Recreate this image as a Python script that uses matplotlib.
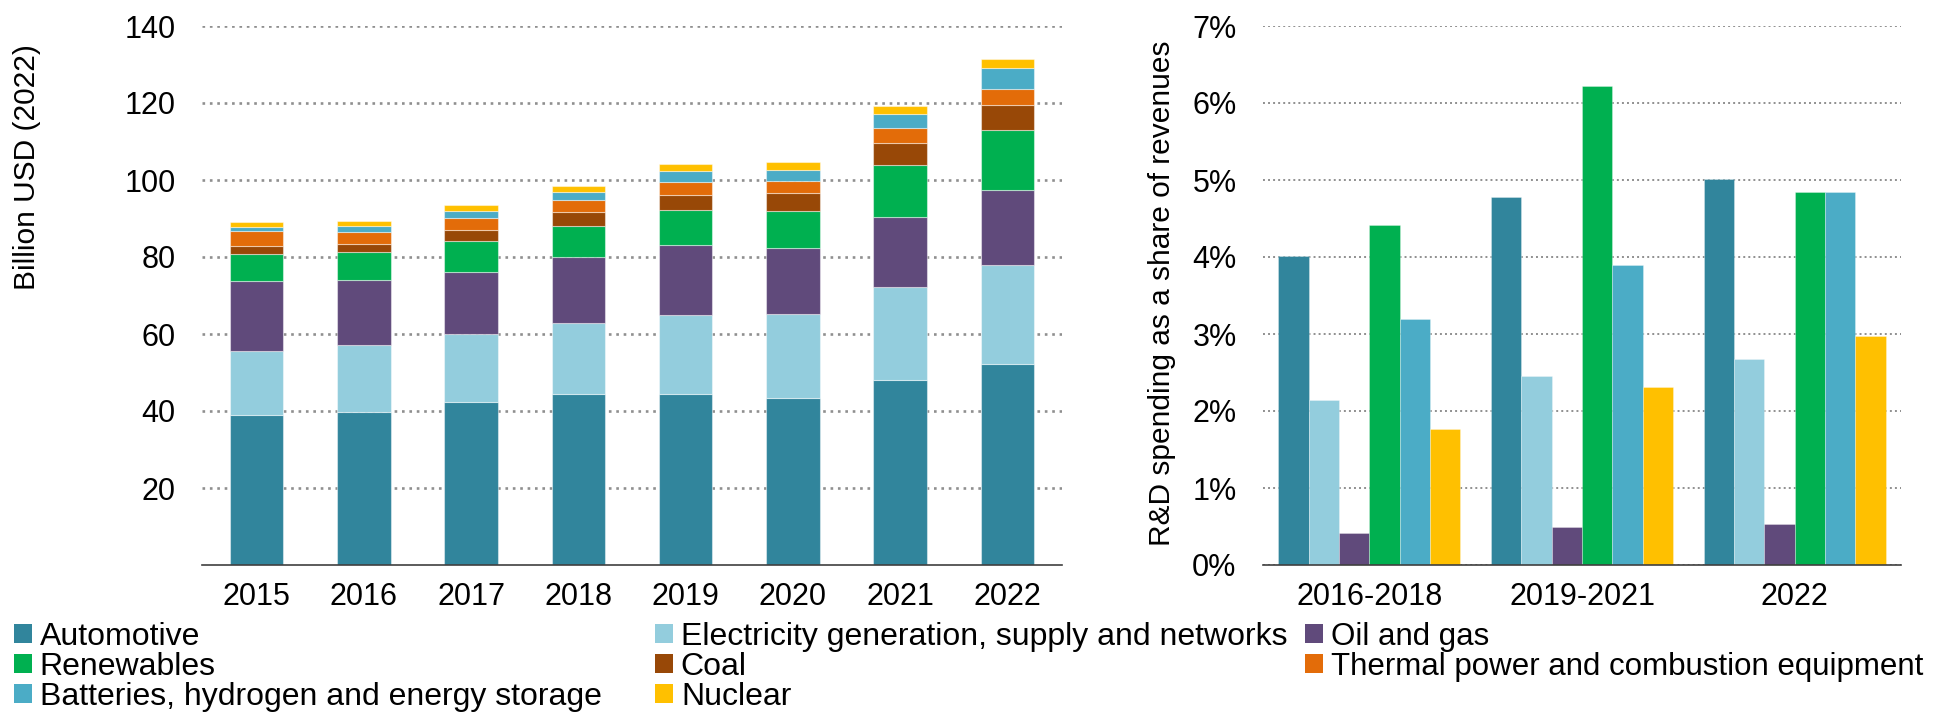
import numpy as np
import matplotlib
matplotlib.use("Agg")
import matplotlib.pyplot as plt
from matplotlib.patches import Patch
from matplotlib.ticker import FuncFormatter

plt.rcParams['font.family'] = ['Liberation Sans', 'DejaVu Sans']

#-------------------------------------data-------------------------------------#

years = ["2015", "2016", "2017", "2018", "2019", "2020", "2021", "2022"]
automotive = [38.9, 39.7, 42.4, 44.5, 44.4, 43.5, 48.1, 52.3]
electricity = [16.8, 17.4, 17.5, 18.4, 20.6, 21.8, 24.0, 25.7]
oil_gas = [18.1, 16.8, 16.1, 17.1, 18.2, 17.1, 18.4, 19.5]
renewables = [7.1, 7.5, 8.1, 8.1, 8.9, 9.6, 13.3, 15.4]
coal = [2.0, 1.9, 2.8, 3.5, 4.1, 4.5, 5.8, 6.7]
thermal = [3.8, 3.1, 3.2, 3.3, 3.4, 3.2, 3.9, 4.1]
batteries = [1.2, 1.7, 1.9, 2.1, 2.7, 3.0, 3.7, 5.4]
nuclear = [1.3, 1.3, 1.5, 1.4, 1.9, 2.0, 2.1, 2.3]

periods = ["2016-2018", "2019-2021", "2022"]
share_auto = [4.01, 4.78, 5.01]
share_elec = [2.14, 2.46, 2.67]
share_oil = [0.42, 0.49, 0.53]
share_ren = [4.41, 6.22, 4.84]
share_batt = [3.20, 3.90, 4.85]
share_nuc = [1.76, 2.31, 2.97]

colors = {"Automotive": "#31859C",
          "Electricity generation, supply and networks": "#93CDDD",
          "Oil and gas": "#604A7B",
          "Renewables": "#00B050",
          "Coal": "#984807",
          "Thermal power and combustion equipment": "#E36C09",
          "Batteries, hydrogen and energy storage": "#4BACC6",
          "Nuclear": "#FFC000"}

stack = [automotive, electricity, oil_gas, renewables, coal, thermal, batteries, nuclear]
stack_names = ["Automotive", "Electricity generation, supply and networks", "Oil and gas",
               "Renewables", "Coal", "Thermal power and combustion equipment",
               "Batteries, hydrogen and energy storage", "Nuclear"]

shares = [share_auto, share_elec, share_oil, share_ren, share_batt, share_nuc]
share_names = ["Automotive", "Electricity generation, supply and networks", "Oil and gas",
               "Renewables", "Batteries, hydrogen and energy storage", "Nuclear"]

W, H = 1937, 713
fig = plt.figure(figsize=(W / 100, H / 100), dpi=100)

grid_col = "#8F8F8F"
base_col = "#404040"
fs = 22

def style_axes(ax, pad_y):
    for s in ["top", "right", "left"]:
        ax.spines[s].set_visible(False)
    ax.spines["bottom"].set_color(base_col)
    ax.spines["bottom"].set_linewidth(1.2)
    ax.tick_params(axis="both", length=0, labelsize=fs, colors="black")
    ax.tick_params(axis="y", pad=pad_y)
    ax.tick_params(axis="x", pad=12)
    ax.set_axisbelow(True)

#-------------------------------------left: stacked R&D spending-------------------------------------#

ax1 = fig.add_axes([202 / W, 1 - 565 / H, (1062 - 202) / W, (565 - 26) / H])
x = np.arange(len(years))
bottom = np.zeros(len(years))
for vals, nm in zip(stack, stack_names):
    ax1.bar(x, vals, 0.5, bottom=bottom, color=colors[nm],
            edgecolor=(1, 1, 1, 0.45), linewidth=0.8)
    bottom += np.array(vals)

ax1.set_xlim(-0.51, 7.51)
ax1.set_ylim(0, 140)
ax1.set_yticks(np.arange(20, 141, 20))
ax1.set_xticks(x)
ax1.set_xticklabels(years)
ax1.yaxis.grid(True, color=grid_col, linestyle=(0, (1, 1.8)), linewidth=1.9)
style_axes(ax1, 19)

#-------------------------------------right: share of revenues-------------------------------------#

ax2 = fig.add_axes([1263 / W, 1 - 565 / H, (1901 - 1263) / W, (565 - 26) / H])
g = np.arange(len(periods))
bw = 1 / 7
for i, (vals, nm) in enumerate(zip(shares, share_names)):
    ax2.bar(g + (i - 2.5) * bw, vals, bw, color=colors[nm],
            edgecolor=(1, 1, 1, 0.35), linewidth=0.6)

ax2.set_xlim(-0.5, 2.5)
ax2.set_ylim(0, 7)
ax2.set_yticks(np.arange(0, 8, 1))
ax2.yaxis.set_major_formatter(FuncFormatter(lambda v, p: "%d%%" % v))
ax2.set_xticks(g)
ax2.set_xticklabels(periods)
ax2.yaxis.grid(True, color=grid_col, linestyle=(0, (1, 1.6)), linewidth=1.4)
style_axes(ax2, 19)

fig.text(27 / W, 1 - 167 / H, "Billion USD (2022)", rotation=90,
         ha="center", va="center", fontsize=21.5)
fig.text(1162 / W, 1 - 293 / H, "R&D spending as a share of revenues", rotation=90,
         ha="center", va="center", fontsize=21.5)

#-------------------------------------legend, row by row in three columns-------------------------------------#

columns = [(14, 23, ["Automotive", "Renewables", "Batteries, hydrogen and energy storage"]),
           (655, 23, ["Electricity generation, supply and networks", "Coal", "Nuclear"]),
           (1305, 22.5, ["Oil and gas", "Thermal power and combustion equipment"])]
for left, size, labels in columns:
    handles = [Patch(facecolor=colors[l], edgecolor="none") for l in labels]
    fig.legend(handles, labels, loc="upper left", bbox_to_anchor=(left / W, 1 - 622 / H),
               frameon=False, fontsize=size, borderpad=0, borderaxespad=0,
               handlelength=0.55 * 23 / size, handleheight=0.55 * 23 / size,
               handletextpad=0.26, labelspacing=0.0)

fig.savefig("out.png", dpi=100)
